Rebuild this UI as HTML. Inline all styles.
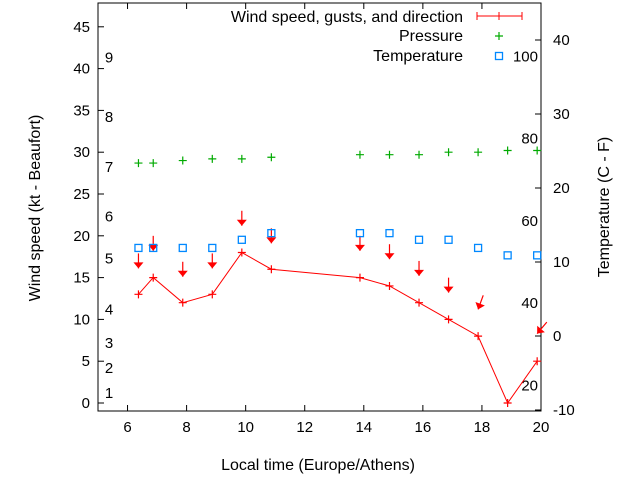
<!DOCTYPE html>
<html><head><meta charset="utf-8"><style>
body{margin:0;background:#fff;}
svg{display:block;font-family:"Liberation Sans",sans-serif;}
</style></head><body>
<svg id="chart" width="640" height="480" viewBox="0 0 640 480" xmlns="http://www.w3.org/2000/svg"></svg>
<script>
const times=[6.37,6.87,7.87,8.87,9.87,10.87,13.87,14.87,15.87,16.87,17.87,18.87,19.87];
const windSpeed=[13,15,12,13,18,16,15,14,12,10,8,0,5];
const gusts=[16.1,18.2,15.1,16.1,21.2,19.1,18.2,17.2,15.2,13.2,11.2,null,8.3];
const windDir=[0,0,0,0,0,0,0,0,0,0,20,null,40];
const pressure=[28.7,28.7,29,29.2,29.2,29.4,29.7,29.7,29.7,30,30,30.2,30.2];
const temperature=[11.9,11.9,11.9,11.9,13.0,13.9,13.9,13.9,13.0,13.0,11.9,10.9,10.9];
const xTicks=[6,8,10,12,14,16,18,20];
const yTicks=[0,5,10,15,20,25,30,35,40,45];
const y2Ticks=[-10,0,10,20,30,40];
const beaufortLabels=[1,2,3,4,5,6,7,8,9];
const beaufortKt=[1.2,4.2,7.2,11.2,17.3,22.3,28.2,34.2,41.3];
const fahrLabels=[20,40,60,80,100];

const svg=document.getElementById('chart');
const NS='http://www.w3.org/2000/svg';
const L=98,R=541,T=3,B=411;
const x=h=>L+(h-5)*(R-L)/15;
const y=v=>403-v*8.36;
const y2=c=>410-(c+10)*7.4;
function mk(tag,attrs,parent){const e=document.createElementNS(NS,tag);for(const k in attrs)e.setAttribute(k,attrs[k]);(parent||svg).appendChild(e);return e;}
function txt(s,xx,yy,anchor,extra){const t=mk('text',Object.assign({x:xx,y:yy,'font-size':14,'text-anchor':anchor,fill:'#000'},extra||{}));t.textContent=s;return t;}

const frame=mk('rect',{x:L,y:T,width:R-L,height:B-T,fill:'none',stroke:'#000','stroke-width':1});



xTicks.forEach(h=>{
  mk('line',{x1:x(h),y1:B,x2:x(h),y2:B-6,stroke:'#000'});
  mk('line',{x1:x(h),y1:T,x2:x(h),y2:T+6,stroke:'#000'});
  const t=txt(String(h),x(h),432,'middle',{'font-size':15});
  
  
});
yTicks.forEach(v=>{
  mk('line',{x1:L,y1:y(v),x2:L+6,y2:y(v),stroke:'#000'});
  const t=txt(String(v),90,y(v)+5,'end',{'font-size':15});
  
  
});
y2Ticks.forEach(c=>{
  mk('line',{x1:R,y1:y2(c),x2:R-6,y2:y2(c),stroke:'#000'});
  const t=txt(String(c),553,y2(c)+5,'start',{'font-size':15});
  
  
});
beaufortLabels.forEach((b,i)=>{
  const t=txt(String(b),109,y(beaufortKt[i])+5,'middle',{'font-size':15});
  
  
});
fahrLabels.forEach(f=>{
  const t=txt(String(f),538,y2((f-32)*5/9)+5,'end',{'font-size':15});
  
  
});

let t=txt('Local time (Europe/Athens)',318,470,'middle',{'font-size':16});


t=txt('Wind speed (kt - Beaufort)',0,0,'middle',{transform:'translate(40,208) rotate(-90)','font-size':16});


t=txt('Temperature (C - F)',0,0,'middle',{transform:'translate(609,207) rotate(-90)','font-size':16});



const wl=mk('polyline',{points:times.map((h,i)=>x(h)+','+y(windSpeed[i])).join(' '),fill:'none',stroke:'#f00','stroke-width':1});


times.forEach((h,i)=>{
  const g=mk('path',{d:`M${x(h)-4},${y(windSpeed[i])}h8M${x(h)},${y(windSpeed[i])-4}v8`,stroke:'#f00','stroke-width':1.2});
  
  
});
times.forEach((h,i)=>{
  if(gusts[i]==null)return;
  const tx=x(h),ty=y(gusts[i]);
  const g=mk('g',{transform:`translate(${tx},${ty}) rotate(${windDir[i]})`});
  
  
  mk('line',{x1:0,y1:-15,x2:0,y2:0,stroke:'#f00','stroke-width':1.2},g);
  mk('path',{d:'M-5,-6L5,-6L0,0Z',fill:'#f00'},g);
});
times.forEach((h,i)=>{
  const g=mk('path',{d:`M${x(h)-4},${y(pressure[i])}h8M${x(h)},${y(pressure[i])-4}v8`,stroke:'#0a0','stroke-width':1.2});
  
  
});
times.forEach((h,i)=>{
  const r=mk('rect',{x:x(h)-3.5,y:y2(temperature[i])-3.5,width:7,height:7,fill:'none',stroke:'#08f','stroke-width':1.3});
  
  
});

const lg=mk('g',{});


t=txt('Wind speed, gusts, and direction',463,22,'end',{'font-size':16});
mk('path',{d:'M477,16H522M477,12v8M522,12v8M499,12v8',stroke:'#f00','stroke-width':1},lg);
t=txt('Pressure',463,41,'end',{'font-size':16});
mk('path',{d:'M495,36h8M499,32v8',stroke:'#0a0','stroke-width':1.2},lg);
t=txt('Temperature',463,61,'end',{'font-size':16});
mk('rect',{x:495.5,y:52.5,width:7,height:7,fill:'none',stroke:'#08f','stroke-width':1.3},lg);
</script>
</body></html>
